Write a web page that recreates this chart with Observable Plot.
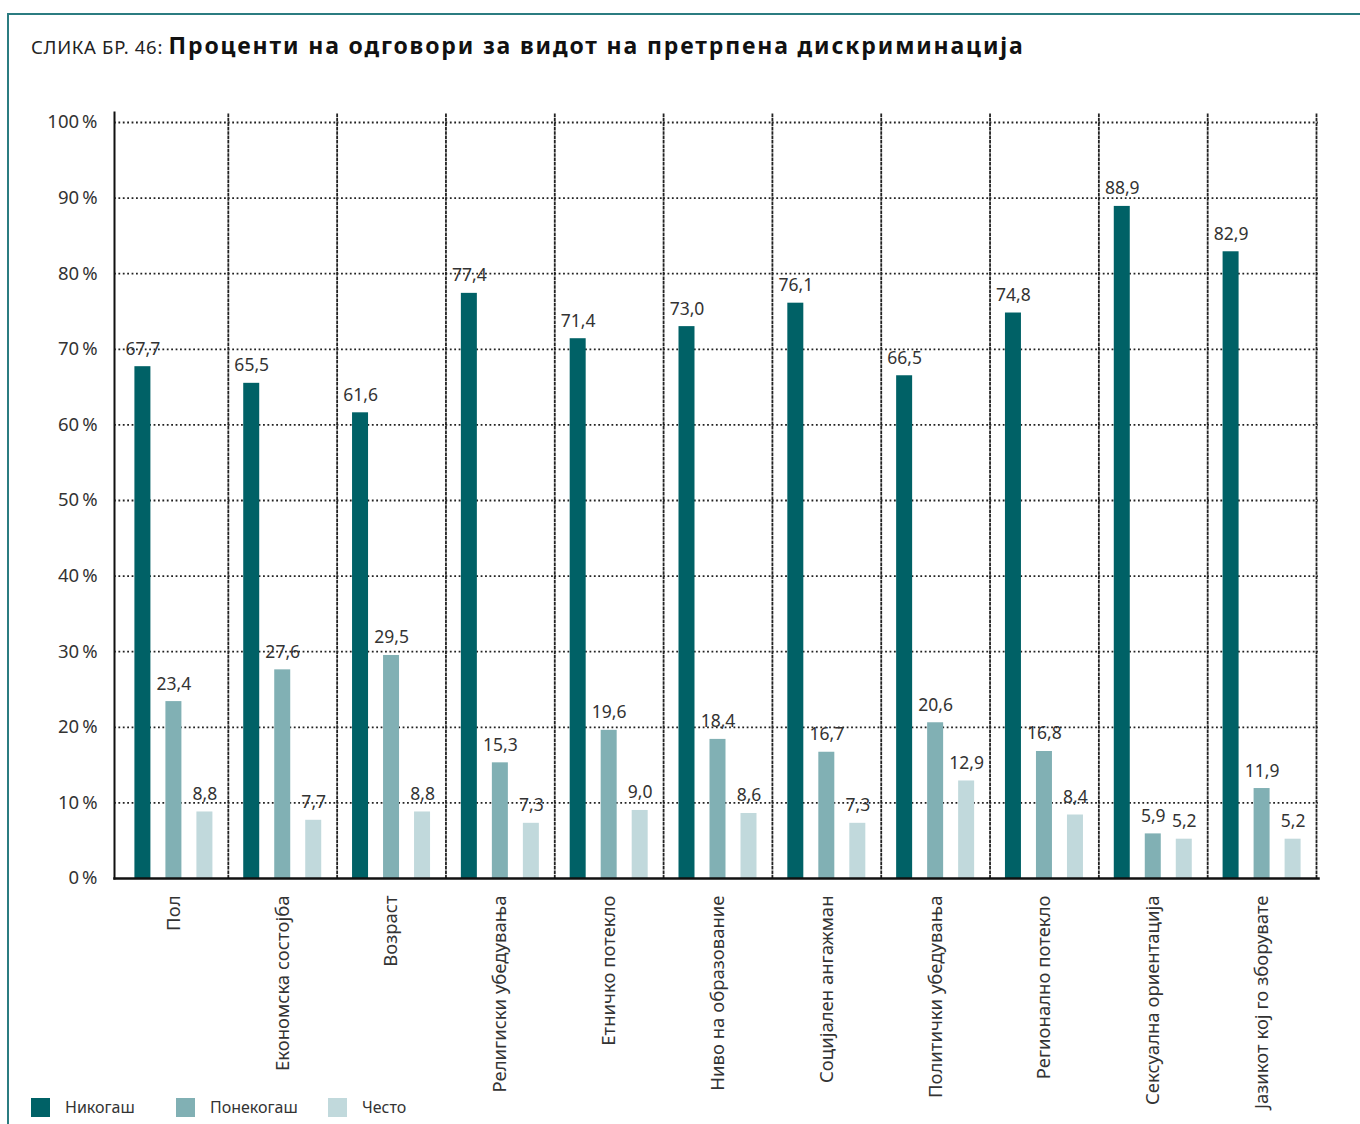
<!DOCTYPE html>
<html>
<head>
<meta charset="utf-8">
<script src="https://cdn.jsdelivr.net/npm/d3@7"></script>
<script src="https://cdn.jsdelivr.net/npm/@observablehq/plot@0.6"></script>
<style>
  html, body { margin: 0; padding: 0; background: #fff; }
  #page { position: relative; width: 1360px; height: 1124px; overflow: hidden; font-family: "Noto Sans", sans-serif; color: #333; }
  #border { position: absolute; left: 7px; top: 13px; right: -5px; bottom: -5px; border-top: 2px solid #2b7c81; border-left: 2px solid #2b7c81; }
  #title { position: absolute; left: 31px; top: 34px; line-height: 1; white-space: nowrap; color: #111; }
  #title .pre { font-size: 18.5px; letter-spacing: 0.7px; color: #222; }
  #title .main { font-size: 23px; font-weight: 700; letter-spacing: 1.85px; }
  #chart { position: absolute; left: 0; top: 70px; }
  #legend { position: absolute; left: 31px; top: 1096px; display: flex; align-items: center; font-size: 16px; color: #333; }
  #legend .item { display: flex; align-items: center; }
  #legend .sw { width: 19px; height: 19px; margin-right: 15px; }
</style>
</head>
<body>
<div id="page">
  <div id="border"></div>
  <div id="title"><span class="pre">СЛИКА БР. 46: </span><span class="main">Проценти на одговори за видот на претрпена дискриминација</span></div>
  <div id="chart"></div>
  <div id="legend"></div>
</div>
<script>
const categories = ["Пол","Економска состојба","Возраст","Религиски убедувања","Етничко потекло","Ниво на образование","Социјален ангажман","Политички убедувања","Регионално потекло","Сексуална ориентација","Јазикот кој го зборувате"];
const series = ["Никогаш","Понекогаш","Често"];
const never = [67.7, 65.5, 61.6, 77.4, 71.4, 73.0, 76.1, 66.5, 74.8, 88.9, 82.9];
const sometimes = [23.4, 27.6, 29.5, 15.3, 19.6, 18.4, 16.7, 20.6, 16.8, 5.9, 11.9];
const often = [8.8, 7.7, 8.8, 7.3, 9.0, 8.6, 7.3, 12.9, 8.4, 5.2, 5.2];
const yTicks = [0, 10, 20, 30, 40, 50, 60, 70, 80, 90, 100];
const colors = ["#006166", "#81b0b4", "#c1d9dc"];

const seriesValues = [never, sometimes, often];
const rows = [];
categories.forEach((c, i) => {
  series.forEach((s, j) => rows.push({category: c, series: s, value: seriesValues[j][i]}));
});
const gridRows = [];
categories.forEach(c => yTicks.filter(t => t > 0).forEach(t => gridRows.push({category: c, y: t})));
const first = categories[0], last = categories[categories.length - 1];
const fmt = v => v.toFixed(1).replace(".", ",");
const dotted = {stroke: "#222", strokeWidth: 1.8, strokeDasharray: "1.8,2.6"};

const chart = Plot.plot({
  width: 1360,
  height: 1054,
  marginTop: 52,
  marginBottom: 246,
  marginLeft: 119,
  marginRight: 44,
  style: {fontFamily: "Noto Sans, sans-serif", color: "#333", background: "transparent", overflow: "visible"},
  fx: {domain: categories, padding: 0, round: false, label: null},
  x: {domain: series, paddingInner: 0.484, paddingOuter: 0.497, align: 0.5, round: false, axis: null},
  y: {domain: [0, 100], label: null},
  color: {domain: series, range: colors},
  marks: [
    Plot.ruleY(gridRows.filter(d => d.category !== first && d.category !== last), {fx: "category", y: "y", ...dotted}),
    Plot.ruleY(gridRows.filter(d => d.category === first), {fx: "category", y: "y", insetLeft: -5, ...dotted}),
    Plot.ruleY(gridRows.filter(d => d.category === last), {fx: "category", y: "y", insetRight: -2, ...dotted}),
    Plot.frame({anchor: "right", insetTop: -8, ...dotted}),
    Plot.barY(rows, {fx: "category", x: "series", y: "value", fill: "series"}),
    Plot.text(rows, {fx: "category", x: "series", y: "value", text: d => fmt(d.value), lineAnchor: "bottom", dy: -12, fontSize: 17.5, fill: "#333"}),
    Plot.frame({facet: "super", anchor: "left", insetLeft: -5, insetTop: -10, stroke: "#111", strokeWidth: 2}),
    Plot.frame({facet: "super", anchor: "bottom", insetLeft: -5, insetRight: -2, stroke: "#111", strokeWidth: 2.5}),
    Plot.axisY(yTicks, {tickSize: 0, tickPadding: 22, tickFormat: d => d + "\u2009%", fontSize: 18.5, fill: "#333", label: null}),
    Plot.axisFx({anchor: "bottom", tickSize: 0, tickPadding: 17, tickRotate: -90, fontSize: 18.5, fill: "#333", label: null})
  ]
});
document.getElementById("chart").appendChild(chart);

const legend = document.getElementById("legend");
series.forEach((s, i) => {
  const item = document.createElement("div");
  item.className = "item";
  item.style.width = i === 0 ? "145px" : (i === 1 ? "152px" : "auto");
  const sw = document.createElement("div");
  sw.className = "sw";
  sw.style.background = colors[i];
  const t = document.createElement("span");
  t.textContent = s;
  item.appendChild(sw);
  item.appendChild(t);
  legend.appendChild(item);
});
</script>
</body>
</html>
